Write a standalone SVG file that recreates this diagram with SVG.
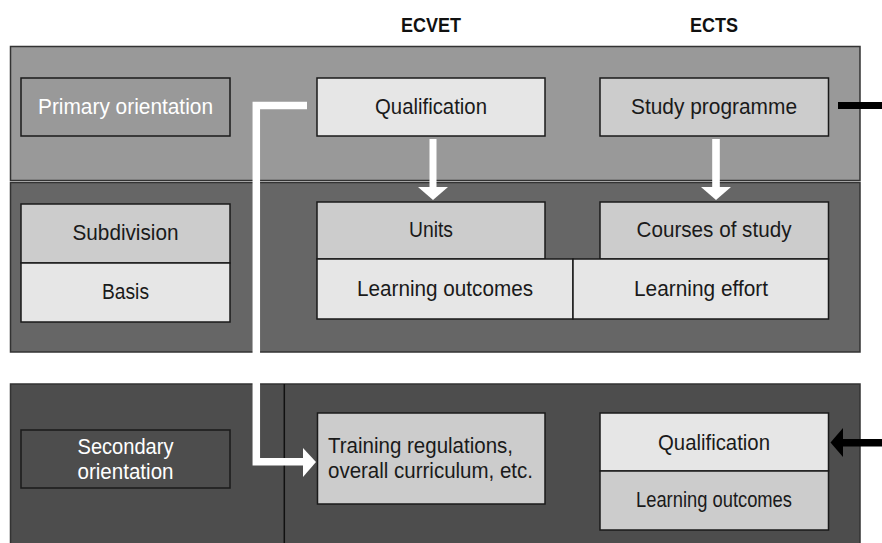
<svg xmlns="http://www.w3.org/2000/svg" width="882" height="543" viewBox="0 0 882 543">
<style>
.panel{stroke:#333;stroke-width:1.5}
.box{stroke:#1a1a1a;stroke-width:1.5}
.light{fill:#e6e6e6}
.mid{fill:#cccccc}
.t{font-family:"Liberation Sans",Arial,sans-serif;font-size:22px;fill:#1a1a1a;text-anchor:middle}
.l{text-anchor:start}
.w{fill:#ffffff}
.h{font-family:"Liberation Sans",Arial,sans-serif;font-size:20px;font-weight:bold;fill:#111;text-anchor:middle}
</style>
<rect width="882" height="543" fill="#ffffff"/>
<g id="headers">
<text class="h" x="431" y="32" textLength="60" lengthAdjust="spacingAndGlyphs">ECVET</text>
<text class="h" x="714" y="32" textLength="48" lengthAdjust="spacingAndGlyphs">ECTS</text>
</g>
<g id="panels">
<rect class="panel" x="10.5" y="46.5" width="849.5" height="134" fill="#999999"/>
<rect class="panel" x="10.5" y="182.5" width="849.5" height="169.5" fill="#666666"/>
<rect class="panel" x="10.5" y="384" width="849.5" height="170" fill="#4d4d4d"/>
<line x1="284.3" y1="384" x2="284.3" y2="543" stroke="#111" stroke-width="1.5"/>
</g>
<g id="primary-orientation">
<rect class="box" x="21" y="78" width="209" height="58" fill="#999999"/>
<text class="t w" x="125.5" y="114" textLength="175" lengthAdjust="spacingAndGlyphs">Primary orientation</text>
</g>
<g id="qualification-ecvet">
<rect class="box light" x="317" y="78" width="228" height="58"/>
<text class="t" x="431" y="114" textLength="112" lengthAdjust="spacingAndGlyphs">Qualification</text>
</g>
<g id="study-programme">
<rect class="box mid" x="600" y="78" width="228.5" height="58"/>
<text class="t" x="714" y="114" textLength="166" lengthAdjust="spacingAndGlyphs">Study programme</text>
</g>
<g id="subdivision">
<rect class="box mid" x="21" y="204" width="209" height="59"/>
<text class="t" x="125.5" y="240" textLength="106" lengthAdjust="spacingAndGlyphs">Subdivision</text>
</g>
<g id="basis">
<rect class="box light" x="21" y="263" width="209" height="59"/>
<text class="t" x="125.5" y="299" textLength="47" lengthAdjust="spacingAndGlyphs">Basis</text>
</g>
<g id="units">
<rect class="box mid" x="317" y="202" width="228" height="57"/>
<text class="t" x="431" y="237" textLength="44" lengthAdjust="spacingAndGlyphs">Units</text>
</g>
<g id="courses-of-study">
<rect class="box mid" x="600" y="202" width="228.5" height="57"/>
<text class="t" x="714" y="237" textLength="155" lengthAdjust="spacingAndGlyphs">Courses of study</text>
</g>
<g id="learning-outcomes-ecvet">
<rect class="box light" x="317" y="259" width="256" height="60"/>
<text class="t" x="445" y="296" textLength="176" lengthAdjust="spacingAndGlyphs">Learning outcomes</text>
</g>
<g id="learning-effort">
<rect class="box light" x="573" y="259" width="255.5" height="60"/>
<text class="t" x="701" y="296" textLength="134" lengthAdjust="spacingAndGlyphs">Learning effort</text>
</g>
<g id="secondary-orientation">
<rect class="box" x="21" y="430" width="209" height="58" fill="#4d4d4d"/>
<text class="t w" x="125.5" y="454" textLength="96" lengthAdjust="spacingAndGlyphs">Secondary</text>
<text class="t w" x="125.5" y="478.5" textLength="96" lengthAdjust="spacingAndGlyphs">orientation</text>
</g>
<g id="training-regulations">
<rect class="box mid" x="317.5" y="413" width="227.5" height="91"/>
<text class="t l" x="328" y="453" textLength="185" lengthAdjust="spacingAndGlyphs">Training regulations,</text>
<text class="t l" x="328" y="477.5" textLength="205" lengthAdjust="spacingAndGlyphs">overall curriculum, etc.</text>
</g>
<g id="qualification-ects">
<rect class="box light" x="600" y="413" width="228.5" height="58"/>
<text class="t" x="714" y="449.5" textLength="112" lengthAdjust="spacingAndGlyphs">Qualification</text>
</g>
<g id="learning-outcomes-ects">
<rect class="box mid" x="600" y="471" width="228.5" height="59"/>
<text class="t" x="714" y="507" textLength="156" lengthAdjust="spacingAndGlyphs">Learning outcomes</text>
</g>
<g id="connectors">
<rect x="429.5" y="139" width="7" height="49" fill="#ffffff"/>
<polygon points="418,187 448,187 433,200" fill="#ffffff"/>
<rect x="712.2" y="139" width="7.6" height="49" fill="#ffffff"/>
<polygon points="701,187 731,187 716,200" fill="#ffffff"/>
<polyline points="307,105.5 256.3,105.5 256.3,461.7 304,461.7" fill="none" stroke="#ffffff" stroke-width="7.5" stroke-linejoin="miter"/>
<polygon points="303,448 316,462 303,477" fill="#ffffff"/>
<line x1="838" y1="105.5" x2="882" y2="105.5" stroke="#000" stroke-width="7"/>
<line x1="882" y1="442.7" x2="842" y2="442.7" stroke="#000" stroke-width="7.5"/>
<polygon points="843,428 830.5,442.5 843,457" fill="#000"/>
</g>
</svg>
